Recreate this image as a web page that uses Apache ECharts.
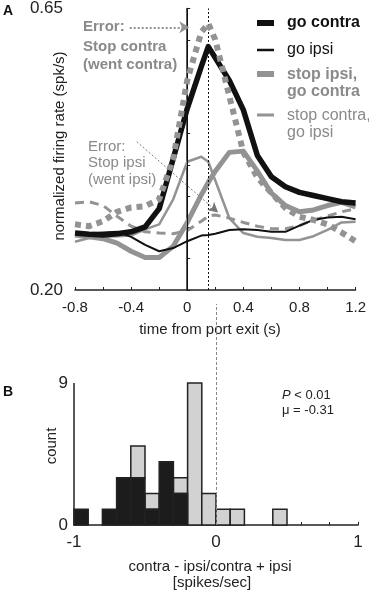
<!DOCTYPE html>
<html><head><meta charset="utf-8">
<script src="https://cdn.jsdelivr.net/npm/echarts@6/dist/echarts.min.js"></script>
<style>html,body{margin:0;padding:0;background:#fff}#c{width:369px;height:595px}</style>
</head><body><div id="c"></div>
<script>
// ---- Panel A data ----
const times = [-0.8,-0.7,-0.6,-0.5,-0.4,-0.3,-0.2,-0.1,0,0.1,0.15,0.2,0.3,0.4,0.5,0.6,0.7,0.8,0.9,1.0,1.1,1.2];
const goContra        = [0.291,0.289,0.288,0.290,0.293,0.301,0.330,0.410,0.490,0.557,0.589,0.571,0.535,0.488,0.415,0.381,0.365,0.356,0.351,0.346,0.341,0.339];
const goIpsi          = [0.290,0.291,0.292,0.293,0.285,0.272,0.262,0.267,0.278,0.287,0.288,0.290,0.296,0.297,0.296,0.293,0.293,0.303,0.312,0.316,0.317,0.313];
const stopIpsiGoContra= [0.288,0.285,0.282,0.275,0.262,0.252,0.252,0.270,0.308,0.352,0.372,0.390,0.420,0.422,0.390,0.355,0.335,0.325,0.328,0.335,0.340,0.333];
const stopContraGoIpsi= [0.277,0.283,0.285,0.286,0.287,0.297,0.305,0.345,0.405,0.413,0.405,0.375,0.315,0.291,0.285,0.283,0.280,0.280,0.286,0.296,0.308,0.309];
const errStopContra   = [0.305,0.302,0.310,0.325,0.332,0.334,0.345,0.410,0.535,0.612,0.626,0.600,0.510,0.420,0.380,0.355,0.331,0.317,0.312,0.305,0.292,0.278];
const errStopIpsi     = [0.339,0.341,0.335,0.318,0.302,0.293,0.291,0.290,0.295,0.310,0.318,0.320,0.315,0.308,0.302,0.298,0.298,0.303,0.312,0.318,0.325,0.330];
const yTickLabels = ['0.20','0.65'];
const xTickLabels = ['-0.8','-0.4','0','0.4','0.8','1.2'];
const eventTimes = [0, 0.15];

// ---- Panel B data ----
const binStarts = [-1,-0.9,-0.8,-0.7,-0.6,-0.5,-0.4,-0.3,-0.2,-0.1,0,0.1,0.2,0.3,0.4,0.5,0.6,0.7,0.8,0.9];
const sigCounts    = [1,0,1,3,3,1,4,2,0,0,0,0,0,0,0,0,0,0,0,0];
const nonSigCounts = [0,0,0,0,2,1,0,1,9,2,1,1,0,0,1,0,0,0,0,0];
const binWidth = 0.1;

const GRAY = '#939393';
const FONT = '"Liberation Sans", Arial, Helvetica, sans-serif';
const pair = v => times.map((t,i)=>[t,v[i]]);

const sigData = [], nonSigData = [];
binStarts.forEach((b,i)=>{
  if (sigCounts[i]>0) sigData.push([b, sigCounts[i], 0]);
  if (nonSigCounts[i]>0) nonSigData.push([b, nonSigCounts[i], sigCounts[i]]);
});
function histItem(fill){
  return function(params, api){
    const x0 = api.value(0), h = api.value(1), base = api.value(2);
    const p0 = api.coord([x0, base]);
    const p1 = api.coord([x0 + binWidth, base + h]);
    return {type:'rect', shape:{x:p0[0], y:p1[1], width:p1[0]-p0[0], height:p0[1]-p1[1]},
      style:{fill:fill, stroke:'#222', lineWidth:1.5}};
  };
}

const chart = echarts.init(document.getElementById('c'), null, {renderer:'canvas'});
const lineS = (name, data, color, width, type, z) => ({
  name, type:'line', data: pair(data), xAxisIndex:0, yAxisIndex:0, symbol:'none', z: z,
  lineStyle:{color, width, type: type || 'solid', cap:'butt', join:'round'}, silent:true, animation:false
});

const option = {
  animation:false,
  textStyle:{fontFamily:FONT},
  grid:[
    {left:75, right:11, top:8, bottom:305},
    {left:74, right:11, top:304, bottom:70}
  ],
  xAxis:[
    {type:'value', gridIndex:0, min:-0.8, max:1.2, interval:0.2,
      axisLine:{lineStyle:{color:'#222', width:1.5}},
      axisTick:{inside:true, length:3, lineStyle:{color:'#222'}},
      splitLine:{show:false},
      axisLabel:{margin:10, fontSize:15, color:'#222', fontFamily:FONT,
        formatter: v => { const s = v.toFixed(1).replace(/^(-?)0\.0$/,'0'); const lbl = (Math.abs(v)<1e-9)?'0':v.toFixed(1); return xTickLabels.indexOf(lbl)>=0 ? lbl : ''; }}},
    {type:'value', gridIndex:1, min:-1, max:1, interval:0.2,
      axisLine:{lineStyle:{color:'#222', width:1.5}},
      axisTick:{inside:true, length:3, lineStyle:{color:'#222'}},
      splitLine:{show:false},
      axisLabel:{margin:9, fontSize:17, color:'#222', fontFamily:FONT,
        formatter: v => Math.abs(v)<1e-9 ? '0' : (Math.abs(Math.abs(v)-1)<1e-9 ? String(Math.round(v)) : '')}}
  ],
  yAxis:[
    {type:'value', gridIndex:0, min:0.2, max:0.65, interval:0.05,
      axisLine:{show:true, lineStyle:{color:'#222', width:1.5}},
      axisTick:{show:true, inside:true, length:3, lineStyle:{color:'#222'}},
      splitLine:{show:false},
      axisLabel:{margin:12, fontSize:17, color:'#222', fontFamily:FONT,
        formatter: v => { const s = v.toFixed(2); return yTickLabels.indexOf(s)>=0 ? s : ''; }}},
    {type:'value', gridIndex:1, min:0, max:14, interval:1,
      axisLine:{show:false}, axisTick:{show:false}, splitLine:{show:false},
      axisLabel:{margin:6, fontSize:17, color:'#222', fontFamily:FONT,
        formatter: v => (v===0||v===9) ? String(v) : ''}}
  ],
  series:[
    lineS('Error: Stop ipsi (went ipsi)', errStopIpsi, GRAY, 3, [9,6], 2),
    lineS('stop contra, go ipsi', stopContraGoIpsi, GRAY, 2.5, 'solid', 3),
    lineS('stop ipsi, go contra', stopIpsiGoContra, GRAY, 5, 'solid', 4),
    lineS('go ipsi', goIpsi, '#111', 2, 'solid', 5),
    lineS('go contra', goContra, '#111', 5.5, 'solid', 6),
    lineS('Error: Stop contra (went contra)', errStopContra, GRAY, 6, [6,5], 7),
    {type:'line', name:'refs', xAxisIndex:0, yAxisIndex:0, data:[], silent:true, z:8,
      markLine:{silent:true, animation:false, symbol:['none','none'], label:{show:false},
        data:[
          {xAxis:eventTimes[0], lineStyle:{color:'#111', width:1, type:'solid'}},
          {xAxis:eventTimes[1], lineStyle:{color:'#111', width:1, type:[2,2]}},
          [{coord:[-0.41,0.62], symbol:'none', lineStyle:{color:GRAY, width:2, type:[2,2]}},
           {coord:[0.015,0.62], symbol:'arrow', symbolSize:[9,10]}],
          [{coord:[-0.36,0.437], symbol:'none', lineStyle:{color:'#777', width:1, type:[2,2]}},
           {coord:[0.22,0.324], symbol:'arrow', symbolSize:[8,10], itemStyle:{color:GRAY}}]
        ]}},
    {type:'custom', name:'non-significant', xAxisIndex:1, yAxisIndex:1, data:nonSigData,
      encode:{x:0, y:1}, renderItem:histItem('#d2d2d2'), silent:true, z:3},
    {type:'custom', name:'significant', xAxisIndex:1, yAxisIndex:1, data:sigData,
      encode:{x:0, y:1}, renderItem:histItem('#1c1c1c'), silent:true, z:3},
    {type:'line', name:'refsB', xAxisIndex:1, yAxisIndex:1, data:[], silent:true, z:5,
      markLine:{silent:true, animation:false, symbol:['none','none'], label:{show:false},
        data:[
          [{coord:[-1,0], lineStyle:{color:'#222', width:1.5, type:'solid'}},{coord:[-1,9]}],
          [{coord:[0,0], lineStyle:{color:'#888', width:1, type:[3,2]}},{coord:[0,14]}]
        ]}}
  ],
  graphic:[
    {type:'text', left:3, top:4, style:{text:'A', font:'bold 14px '+FONT, fill:'#111'}},
    {type:'text', left:3, top:385, style:{text:'B', font:'bold 14px '+FONT, fill:'#111'}},
    // axis titles
    {type:'text', x:60, y:146, rotation:Math.PI/2, style:{text:'normalized firing rate (spk/s)', font:'15px '+FONT, fill:'#222', align:'center', verticalAlign:'middle'}},
    {type:'text', x:210, y:330, style:{text:'time from port exit (s)', font:'15px '+FONT, fill:'#222', align:'center', verticalAlign:'middle'}},
    {type:'text', x:52, y:446, rotation:Math.PI/2, style:{text:'count', font:'15px '+FONT, fill:'#222', align:'center', verticalAlign:'middle'}},
    {type:'text', x:210, y:567, style:{text:'contra - ipsi/contra + ipsi', font:'15px '+FONT, fill:'#222', align:'center', verticalAlign:'middle'}},
    {type:'text', x:212, y:583, style:{text:'[spikes/sec]', font:'15px '+FONT, fill:'#222', align:'center', verticalAlign:'middle'}},
    // stats
    {type:'text', x:282, y:395, style:{text:'{i|P} < 0.01', font:'13px '+FONT, fill:'#222', verticalAlign:'middle', rich:{i:{fontStyle:'italic', fontSize:13, fontFamily:FONT, fill:'#222'}}}},
    {type:'text', x:282, y:410, style:{text:'\u03bc = -0.31', font:'13px '+FONT, fill:'#222', verticalAlign:'middle'}},
    // annotations
    {type:'text', x:83, y:27, style:{text:'Error:', font:'bold 15px '+FONT, fill:'#8a8a8a', verticalAlign:'middle'}},
    {type:'text', x:83, y:47, style:{text:'Stop contra', font:'bold 15px '+FONT, fill:'#8a8a8a', verticalAlign:'middle'}},
    {type:'text', x:83, y:65, style:{text:'(went contra)', font:'bold 15px '+FONT, fill:'#8a8a8a', verticalAlign:'middle'}},
    {type:'text', x:88, y:147, style:{text:'Error:', font:'15px '+FONT, fill:'#8a8a8a', verticalAlign:'middle'}},
    {type:'text', x:88, y:163, style:{text:'Stop ipsi', font:'15px '+FONT, fill:'#8a8a8a', verticalAlign:'middle'}},
    {type:'text', x:88, y:180, style:{text:'(went ipsi)', font:'15px '+FONT, fill:'#8a8a8a', verticalAlign:'middle'}},
    // legend
    {type:'line', shape:{x1:257, y1:23, x2:274, y2:23}, style:{stroke:'#111', lineWidth:6}},
    {type:'text', x:287, y:23, style:{text:'go contra', font:'bold 16px '+FONT, fill:'#111', verticalAlign:'middle'}},
    {type:'line', shape:{x1:257, y1:50, x2:274, y2:50}, style:{stroke:'#111', lineWidth:2.5}},
    {type:'text', x:287, y:50, style:{text:'go ipsi', font:'16px '+FONT, fill:'#111', verticalAlign:'middle'}},
    {type:'line', shape:{x1:257, y1:74, x2:274, y2:74}, style:{stroke:GRAY, lineWidth:6}},
    {type:'text', x:287, y:75, style:{text:'stop ipsi,', font:'bold 16px '+FONT, fill:'#8a8a8a', verticalAlign:'middle'}},
    {type:'text', x:287, y:92, style:{text:'go contra', font:'bold 16px '+FONT, fill:'#8a8a8a', verticalAlign:'middle'}},
    {type:'line', shape:{x1:257, y1:115, x2:274, y2:115}, style:{stroke:GRAY, lineWidth:3}},
    {type:'text', x:287, y:116, style:{text:'stop contra,', font:'16px '+FONT, fill:'#8a8a8a', verticalAlign:'middle'}},
    {type:'text', x:287, y:133, style:{text:'go ipsi', font:'16px '+FONT, fill:'#8a8a8a', verticalAlign:'middle'}}
  ]
};
chart.setOption(option);
</script>
</body></html>
